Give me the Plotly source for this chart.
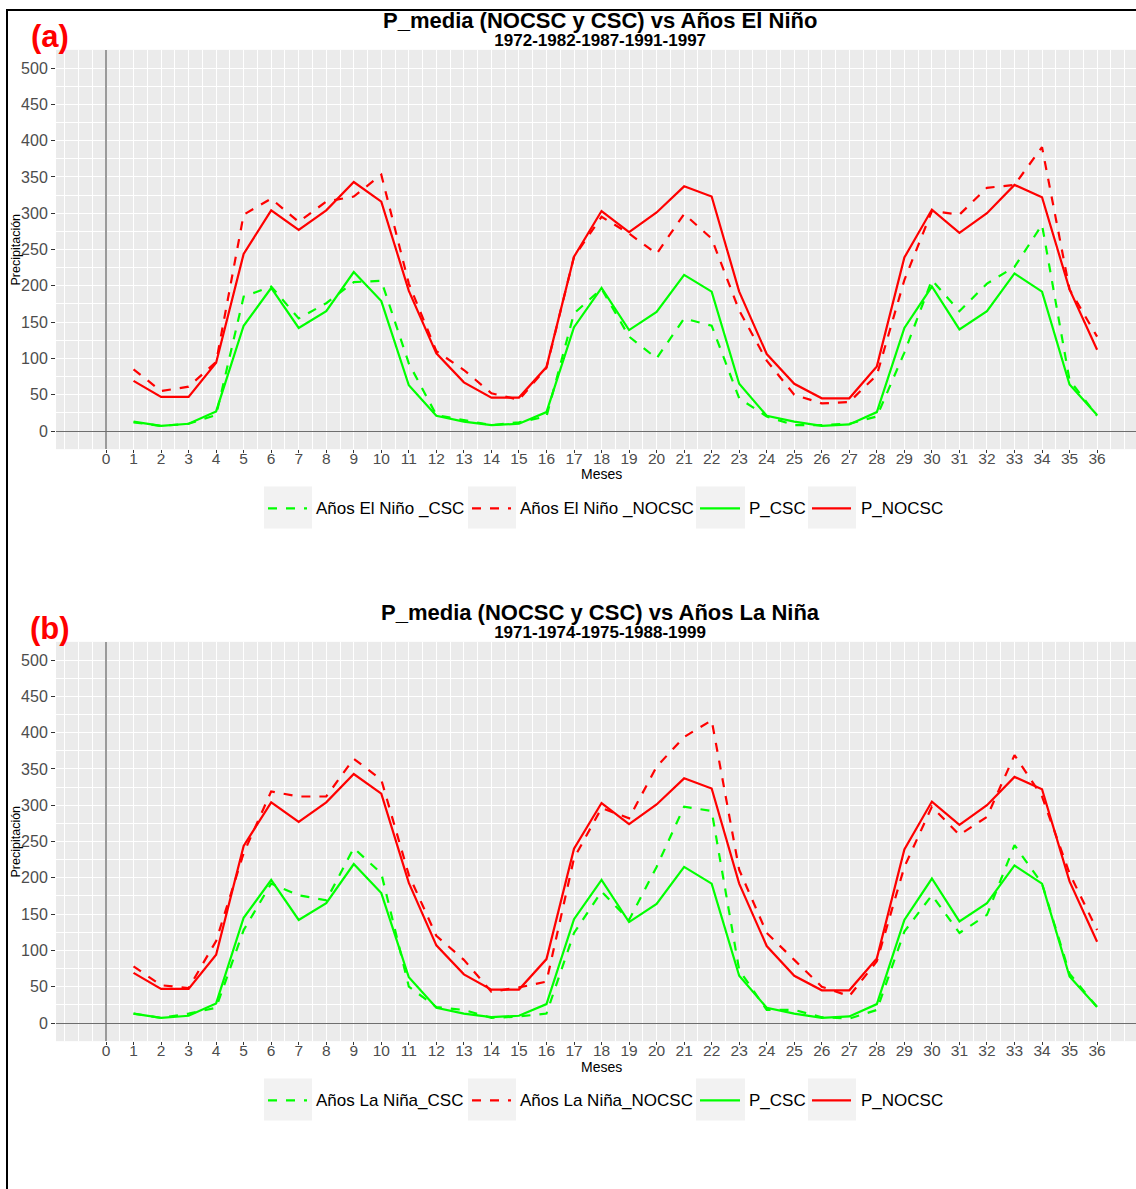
import plotly.graph_objects as go

# ---------------- data ----------------
months = list(range(1, 37))
x_tick_labels = [str(i) for i in range(0, 37)]
y_tick_values = list(range(0, 501, 50))

p_nocsc = [69, 47, 47, 94, 244, 304, 277, 304, 343, 316, 193, 107,
           67, 46, 46, 88, 240, 303, 274, 301, 337, 323, 192, 106,
           65, 45, 45, 89, 239, 305, 273, 300, 339, 322, 195, 112]
p_csc = [13, 7, 10, 27, 145, 197, 142, 165, 219, 179, 63, 21,
         13, 8, 10, 26, 143, 197, 139, 164, 215, 192, 65, 21,
         13, 7, 9, 26, 142, 199, 140, 165, 217, 192, 64, 22]

nino_nocsc = [85, 55, 61, 95, 298, 320, 288, 316, 323, 353, 203, 110,
              84, 52, 43, 87, 240, 295, 272, 244, 299, 265, 166, 97,
              50, 38, 40, 77, 208, 303, 298, 335, 339, 391, 195, 130]
nino_csc = [12, 7, 10, 22, 185, 199, 155, 176, 205, 207, 93, 22,
            15, 8, 12, 20, 162, 196, 130, 100, 155, 145, 45, 20,
            8, 8, 10, 20, 108, 208, 165, 203, 226, 284, 70, 21]

nina_nocsc = [78, 52, 48, 113, 234, 319, 312, 312, 364, 335, 204, 120,
              87, 43, 49, 57, 227, 296, 282, 353, 394, 417, 211, 124,
              87, 50, 37, 85, 215, 298, 259, 284, 369, 312, 206, 128]
nina_csc = [13, 7, 13, 21, 128, 192, 176, 169, 241, 206, 50, 22,
            18, 7, 9, 13, 124, 181, 142, 215, 298, 292, 73, 18,
            18, 8, 6, 18, 126, 176, 124, 149, 245, 192, 68, 22]

panel_titles = ["P_media (NOCSC y CSC) vs Años El Niño",
                "P_media (NOCSC y CSC) vs Años La Niña"]
panel_subtitles = ["1972-1982-1987-1991-1997", "1971-1974-1975-1988-1999"]
panel_tags = ["(a)", "(b)"]
legend_names = [["Años El Niño _CSC", "Años El Niño _NOCSC", "P_CSC", "P_NOCSC"],
                ["Años La Niña_CSC", "Años La Niña_NOCSC", "P_CSC", "P_NOCSC"]]
panel_series = [[nino_csc, nino_nocsc, p_csc, p_nocsc],
                [nina_csc, nina_nocsc, p_csc, p_nocsc]]

# ---------------- styling ----------------
W, H = 1136, 1189
FONT = "Liberation Sans, Arial, Helvetica, sans-serif"
GREEN = "#00FF00"
RED = "#FF0000"
DASH = "9px,9px"
series_style = [(GREEN, DASH), (RED, DASH), (GREEN, "solid"), (RED, "solid")]


def fx(p):
    return p / W


def fy(p):
    return 1 - p / H


X0_PX, X_UNIT = 106.0, 27.53
Y_UNIT = 0.726
zero_px = [431.0, 1023.0]
OFF = 592

fig = go.Figure()

for k in range(2):
    xa = "x" if k == 0 else "x2"
    ya = "y" if k == 0 else "y2"
    for name, ys, (col, dash) in zip(legend_names[k], panel_series[k], series_style):
        fig.add_trace(go.Scatter(x=months, y=ys, mode="lines", name=name,
                                 line=dict(color=col, width=2.2, dash=dash),
                                 showlegend=False, xaxis=xa, yaxis=ya,
                                 hoverinfo="skip"))

x_range = [(56 - X0_PX) / X_UNIT, (W - X0_PX) / X_UNIT]
minor_x = [v / 2 for v in range(-3, 76) if v % 2 != 0] + [-1, 37]


def xaxis_def(anchor):
    return dict(domain=[fx(56), 1.0], range=x_range, anchor=anchor,
                tickmode="array", tickvals=list(range(0, 37)), ticktext=x_tick_labels,
                ticks="outside", ticklen=3, tickwidth=1, tickcolor="#333333",
                ticklabelstandoff=-8,
                tickfont=dict(family=FONT, size=15.5, color="#4D4D4D"),
                showgrid=True, gridcolor="white", gridwidth=1.1,
                minor=dict(tickmode="array", tickvals=minor_x, showgrid=True,
                           gridcolor="white", gridwidth=0.55, ticks=""),
                zeroline=True, zerolinecolor="#9A9A9A", zerolinewidth=2,
                showline=False, fixedrange=True)


def yaxis_def(anchor, k):
    top = zero_px[k] - 525 * Y_UNIT
    bot = zero_px[k] + 25 * Y_UNIT
    return dict(domain=[fy(bot), fy(top)], range=[-25, 525], anchor=anchor,
                tickmode="array", tickvals=y_tick_values,
                ticktext=[str(v) for v in y_tick_values],
                ticks="outside", ticklen=4, tickwidth=1, tickcolor="#333333",
                tickfont=dict(family=FONT, size=16, color="#4D4D4D"),
                showgrid=True, gridcolor="white", gridwidth=1.1,
                minor=dict(dtick=25, tick0=0, showgrid=True,
                           gridcolor="white", gridwidth=0.55, ticks=""),
                zeroline=True, zerolinecolor="#6E6E6E", zerolinewidth=1.3,
                showline=False, fixedrange=True)


annotations = []
shapes = []

# outer frame (only top and left edges visible)
shapes.append(dict(type="rect", xref="paper", yref="paper",
                   x0=fx(7), x1=fx(W + 20), y0=fy(H + 20), y1=fy(10),
                   line=dict(color="black", width=2), fillcolor="rgba(0,0,0,0)",
                   layer="above"))

box_x = [(264, 312), (468, 516), (696, 745), (808, 856)]
text_x = [314, 518, 747, 859]

for k in range(2):
    o = OFF * k
    annotations.append(dict(text=panel_tags[k], x=fx(50), y=fy(36 + o), xref="paper", yref="paper",
                            showarrow=False, xanchor="center", yanchor="middle",
                            font=dict(family=FONT, size=31, color="#FF0000", weight="bold")))
    # title + subtitle in one text block (tight ggplot-like spacing)
    block = ("<span style='font-size:22px'>" + panel_titles[k] + "</span><br>"
             "<span style='font-size:17px'>" + panel_subtitles[k] + "</span>")
    annotations.append(dict(text=block, x=fx(600), y=fy(29 + o), xref="paper", yref="paper",
                            showarrow=False, xanchor="center", yanchor="middle", align="center",
                            font=dict(family=FONT, size=14, color="black", weight="bold")))
    annotations.append(dict(text="Precipitación", x=fx(15.5), y=fy(250 + o), xref="paper", yref="paper",
                            showarrow=False, xanchor="center", yanchor="middle", textangle=-90,
                            font=dict(family=FONT, size=12.5, color="black")))
    annotations.append(dict(text="Meses", x=fx(601), y=fy(474.5 + o), xref="paper", yref="paper",
                            showarrow=False, xanchor="center", yanchor="middle",
                            font=dict(family=FONT, size=14, color="black")))
    # manual legend (ggplot style key boxes)
    for i, (name, (col, dash)) in enumerate(zip(legend_names[k], series_style)):
        bx0, bx1 = box_x[i]
        shapes.append(dict(type="rect", xref="paper", yref="paper",
                           x0=fx(bx0), x1=fx(bx1), y0=fy(528.5 + o), y1=fy(486.5 + o),
                           line=dict(width=0), fillcolor="#F2F2F2", layer="below"))
        shapes.append(dict(type="line", xref="paper", yref="paper",
                           x0=fx(bx0 + 4), x1=fx(bx1 - 5), y0=fy(508.3 + o), y1=fy(508.3 + o),
                           line=dict(color=col, width=2.2, dash=dash)))
        annotations.append(dict(text=name, x=fx(text_x[i]), y=fy(508.3 + o), xref="paper", yref="paper",
                                showarrow=False, xanchor="left", yanchor="middle",
                                font=dict(family=FONT, size=17, color="black")))

fig.update_layout(
    width=W, height=H, autosize=False,
    margin=dict(l=0, r=0, t=0, b=0, pad=0),
    paper_bgcolor="white", plot_bgcolor="#EBEBEB",
    font=dict(family=FONT),
    showlegend=False,
    xaxis=xaxis_def("y"), yaxis=yaxis_def("x", 0),
    xaxis2=xaxis_def("y2"), yaxis2=yaxis_def("x2", 1),
    annotations=annotations, shapes=shapes,
)

fig.write_html("out.html", post_script="document.body.style.margin='0';",
               config={"displayModeBar": False})
